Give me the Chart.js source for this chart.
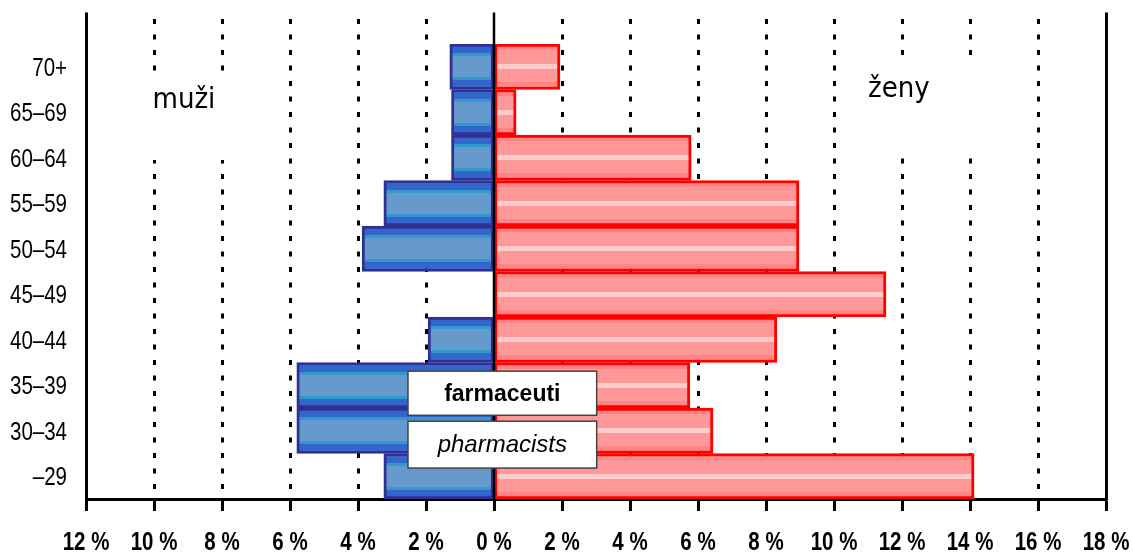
<!DOCTYPE html>
<html>
<head>
<meta charset="utf-8">
<script src="https://cdn.jsdelivr.net/npm/chart.js@4/dist/chart.umd.min.js"></script>
<style>
  html, body { margin: 0; padding: 0; background: #fff; }
  #wrap { width: 1133px; height: 552px; }
</style>
</head>
<body>
<div id="wrap"><canvas id="pyramid" width="1133" height="552"></canvas></div>
<script>
// Age groups, top to bottom
const ageGroups = ['70+', '65–69', '60–64', '55–59', '50–54', '45–49', '40–44', '35–39', '30–34', '–29'];
// Share of all pharmacists in each age group (%)
const menShare   = [1.3, 1.25, 1.25, 3.24, 3.88, 0, 1.94, 5.8, 5.8, 3.24];
const womenShare = [1.94, 0.65, 5.8, 8.97, 8.97, 11.53, 8.32, 5.76, 6.44, 14.12];
// Axis range and tick step (%)
const axisMin = -12;
const axisMax = 18;
const axisStep = 2;
// Side captions and chart title boxes
const sideCaptions = ['muži', 'ženy'];
const titleLines = ['farmaceuti', 'pharmacists'];

const SANS = '"Liberation Sans", Arial, sans-serif';
const CAPTION_FONT = '"DejaVu Sans Condensed", "DejaVu Sans", sans-serif';
const TICK_SQUEEZE = 0.82;   // narrow-face look for the axis labels

// Horizontal stripe fills for the bars
const menStripes = [
  [0, '#3366cc'], [0.2, '#3366cc'], [0.2, '#3399cc'], [0.27, '#3399cc'],
  [0.27, '#6699cc'], [0.73, '#6699cc'], [0.73, '#3399cc'], [0.8, '#3399cc'],
  [0.8, '#3366cc'], [1, '#3366cc']
];
const womenStripes = [
  [0, '#ff8585'], [0.14, '#ff8585'], [0.14, '#ff9999'], [0.44, '#ff9999'],
  [0.44, '#ffcccc'], [0.56, '#ffcccc'], [0.56, '#ff9999'], [0.84, '#ff9999'],
  [0.84, '#ff8585'], [1, '#ff8585']
];

function stripeFill(stops, fallback) {
  return (ctx) => {
    const chart = ctx.chart;
    const y = chart.scales.y;
    if (!chart.chartArea || !y || ctx.dataIndex === undefined) return fallback;
    const step = y.getPixelForValue(1) - y.getPixelForValue(0);
    const c = y.getPixelForValue(ctx.dataIndex);
    const g = chart.ctx.createLinearGradient(0, c - step / 2, 0, c + step / 2);
    stops.forEach(([o, col]) => g.addColorStop(o, col));
    return g;
  };
}

function squeezedText(ctx, text, x, y, align) {
  ctx.save();
  ctx.translate(x, y);
  ctx.scale(TICK_SQUEEZE, 1);
  ctx.textAlign = align;
  ctx.textBaseline = 'alphabetic';
  ctx.fillText(text, 0, 0);
  ctx.restore();
}

// Frame, dotted guides, captions, axis labels and title boxes
const framePlugin = {
  id: 'framePlugin',
  beforeDatasetsDraw(chart) {
    const { ctx, chartArea: a, scales: { x, y } } = chart;
    const step = y.getPixelForValue(1) - y.getPixelForValue(0);
    const yAt = (u) => y.getPixelForValue(0) + u * step;
    ctx.save();
    ctx.strokeStyle = '#000';
    ctx.lineWidth = 3;
    ctx.setLineDash([5, 10.5]);
    x.ticks.forEach((t) => {
      if (t.value === 0 || t.value === axisMin || t.value === axisMax) return;
      const px = Math.round(x.getPixelForValue(t.value)) + 0.5;
      ctx.beginPath();
      ctx.moveTo(px, a.top - 25);
      ctx.lineTo(px, a.bottom);
      ctx.stroke();
    });
    ctx.setLineDash([]);

    // captions on a white patch that interrupts the guides
    const captions = [
      { text: sideCaptions[0], cx: -9.12, base: 0.907, box: [-10.4, -7.5, 0.12, 2.05] },
      { text: sideCaptions[1], cx: 11.91, base: 0.665, box: [10.5, 14.9, -0.24, 2.0] }
    ];
    ctx.font = '29px ' + CAPTION_FONT;
    ctx.textAlign = 'center';
    ctx.textBaseline = 'alphabetic';
    captions.forEach((c) => {
      const x0 = x.getPixelForValue(c.box[0]);
      const x1 = x.getPixelForValue(c.box[1]);
      const y0 = yAt(c.box[2]);
      const y1 = yAt(c.box[3]);
      ctx.fillStyle = '#fff';
      ctx.fillRect(x0, y0, x1 - x0, y1 - y0);
      ctx.fillStyle = '#000';
      ctx.fillText(c.text, x.getPixelForValue(c.cx), yAt(c.base));
    });

    // axis labels
    ctx.fillStyle = '#000';
    ctx.font = '25px ' + SANS;
    y.ticks.forEach((t, i) => {
      squeezedText(ctx, ageGroups[t.value], a.left - 19, y.getPixelForTick(i) + 9, 'right');
    });
    ctx.font = 'bold 25px ' + SANS;
    x.ticks.forEach((t, i) => {
      squeezedText(ctx, Math.abs(t.value) + ' %', x.getPixelForTick(i), a.bottom + 51, 'center');
    });
    ctx.restore();
  },
  afterDatasetsDraw(chart) {
    const { ctx, chartArea: a, scales: { x, y } } = chart;
    const step = y.getPixelForValue(1) - y.getPixelForValue(0);
    const yAt = (u) => y.getPixelForValue(0) + u * step;
    const top = a.top - 31.5;
    ctx.save();
    ctx.strokeStyle = '#000';
    ctx.lineWidth = 3;
    [axisMin, axisMax].forEach((v) => {
      const px = Math.round(x.getPixelForValue(v)) + 0.5;
      ctx.beginPath();
      ctx.moveTo(px, top);
      ctx.lineTo(px, a.bottom + 1.5);
      ctx.stroke();
    });
    ctx.lineWidth = 2.5;
    const zx = x.getPixelForValue(0);
    ctx.beginPath();
    ctx.moveTo(zx, top);
    ctx.lineTo(zx, a.bottom);
    ctx.stroke();

    // title boxes
    const boxes = [
      { text: titleLines[0], font: 'bold 23px ' + SANS, y0: 6.69, y1: 7.66 },
      { text: titleLines[1], font: 'italic 24px ' + SANS, y0: 7.79, y1: 8.82 }
    ];
    const bx0 = x.getPixelForValue(-2.53);
    const bx1 = x.getPixelForValue(3.02);
    ctx.lineWidth = 1.5;
    ctx.strokeStyle = '#444';
    ctx.textAlign = 'center';
    ctx.textBaseline = 'middle';
    boxes.forEach((b) => {
      const y0 = yAt(b.y0), y1 = yAt(b.y1);
      ctx.fillStyle = '#fff';
      ctx.fillRect(bx0, y0, bx1 - bx0, y1 - y0);
      ctx.strokeRect(bx0, y0, bx1 - bx0, y1 - y0);
      ctx.fillStyle = '#000';
      ctx.font = b.font;
      ctx.fillText(b.text, (bx0 + bx1) / 2, (y0 + y1) / 2 + 1);
    });
    ctx.restore();
  }
};

new Chart(document.getElementById('pyramid'), {
  type: 'bar',
  data: {
    labels: ageGroups,
    datasets: [
      {
        label: sideCaptions[0],
        data: menShare.map((v) => -v),
        backgroundColor: stripeFill(menStripes, '#6699cc'),
        borderColor: '#2e3192',
        borderWidth: 3,
        borderSkipped: false
      },
      {
        label: sideCaptions[1],
        data: womenShare,
        backgroundColor: stripeFill(womenStripes, '#ff9999'),
        borderColor: '#ff0000',
        borderWidth: 3,
        borderSkipped: false
      }
    ]
  },
  options: {
    indexAxis: 'y',
    responsive: false,
    devicePixelRatio: 1,
    animation: false,
    barPercentage: 1,
    categoryPercentage: 1,
    layout: { padding: { top: 44, right: 27, left: 0, bottom: 0 } },
    plugins: { legend: { display: false }, tooltip: { enabled: false } },
    scales: {
      x: {
        type: 'linear',
        stacked: true,
        min: axisMin,
        max: axisMax,
        afterFit: (s) => { s.height = 53; s.paddingLeft = 0; s.paddingRight = 0; },
        ticks: { stepSize: axisStep, display: false },
        grid: {
          display: true,
          drawOnChartArea: false,
          drawTicks: true,
          tickLength: 12,
          tickColor: '#000',
          tickWidth: 3,
          color: '#000'
        },
        border: { display: true, color: '#000', width: 3 }
      },
      y: {
        type: 'category',
        stacked: true,
        afterFit: (s) => { s.width = 86; s.paddingTop = 0; s.paddingBottom = 0; },
        ticks: { display: false },
        grid: { display: false, drawTicks: false },
        border: { display: false }
      }
    }
  },
  plugins: [framePlugin]
});
</script>
</body>
</html>
